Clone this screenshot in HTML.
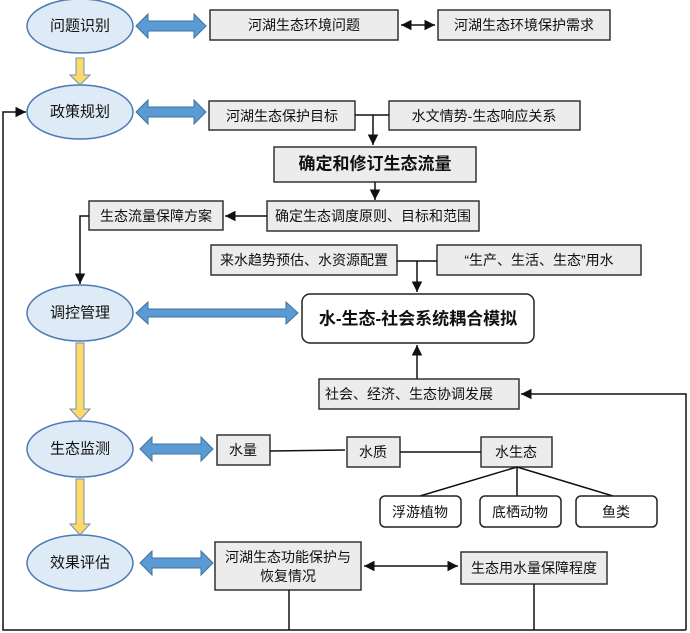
<!DOCTYPE html>
<html><head><meta charset="utf-8"><style>
html,body{margin:0;padding:0;background:#fff}
svg{display:block}
text{font-family:"Liberation Sans","Noto Sans CJK SC",sans-serif;font-size:14px;fill:#111;dominant-baseline:central;text-anchor:middle}
.b{fill:#ececec;stroke:#333;stroke-width:1.5}
.w{fill:#fff;stroke:#222;stroke-width:1.5}
.e{fill:#deeaf6;stroke:#4a7ab5;stroke-width:1.5}
.l{stroke:#111;stroke-width:1.5;fill:none}
.ba{fill:#5b9bd5;stroke:#41719c;stroke-width:1}
.ya{fill:#ffd966;stroke:#6f90c0;stroke-width:1}
.bd{font-weight:bold;font-size:17px}
.el{font-size:15px}
</style></head><body>
<svg width="690" height="633" viewBox="0 0 690 633">
<defs>
<marker id="a" viewBox="0 0 10 10" refX="10" refY="5" markerWidth="7" markerHeight="7" orient="auto-start-reverse"><path d="M0,0 L10,5 L0,10 z" fill="#111"/></marker>
</defs>
<ellipse class="e" cx="80" cy="26" rx="53" ry="27"/><text class="el" x="80" y="26">问题识别</text>
<ellipse class="e" cx="80" cy="112" rx="53" ry="27"/><text class="el" x="80" y="112">政策规划</text>
<ellipse class="e" cx="80" cy="313" rx="53" ry="28"/><text class="el" x="80" y="313">调控管理</text>
<ellipse class="e" cx="80" cy="449" rx="53" ry="28"/><text class="el" x="80" y="449">生态监测</text>
<ellipse class="e" cx="80" cy="563" rx="53" ry="28"/><text class="el" x="80" y="563">效果评估</text>
<path class="ya" d="M76,58 h8 v17 h6 l-10,10 l-10,-10 h6 z"/>
<path class="ya" d="M76,343 h8 v66 h6 l-10,11 l-10,-11 h6 z"/>
<path class="ya" d="M76,479 h8 v45 h6 l-10,11 l-10,-11 h6 z"/>
<path class="ba" d="M136,26 l12,-12 v7 h46 v-7 l12,12 l-12,12 v-7 h-46 v7 z"/>
<path class="ba" d="M136,112 l12,-12 v7 h46 v-7 l12,12 l-12,12 v-7 h-46 v7 z"/>
<path class="ba" d="M136,313 l12,-11 v7 h138 v-7 l12,11 l-12,11 v-7 h-138 v7 z"/>
<path class="ba" d="M140,449 l12,-12 v7 h49 v-7 l12,12 l-12,12 v-7 h-49 v7 z"/>
<path class="ba" d="M140,563 l12,-12 v7 h49 v-7 l12,12 l-12,12 v-7 h-49 v7 z"/>
<rect class="b" x="210" y="10" width="188" height="30"/><text x="304" y="25">河湖生态环境问题</text>
<rect class="b" x="438" y="10" width="172" height="30"/><text x="524" y="25">河湖生态环境保护需求</text>
<line class="l" x1="401" y1="25" x2="435" y2="25" marker-start="url(#a)" marker-end="url(#a)"/>
<rect class="b" x="209" y="101" width="146" height="29"/><text x="282" y="116">河湖生态保护目标</text>
<rect class="b" x="389" y="101" width="191" height="29"/><text x="484" y="116">水文情势-生态响应关系</text>
<path class="l" d="M355,115 H389 M373,115 V145" marker-end="url(#a)"/>
<rect class="b" x="274" y="147" width="202" height="35"/><text class="bd" x="375" y="164">确定和修订生态流量</text>
<line class="l" x1="375" y1="182" x2="375" y2="200" marker-end="url(#a)"/>
<rect class="b" x="267" y="201" width="212" height="30"/><text x="373" y="216">确定生态调度原则、目标和范围</text>
<line class="l" x1="267" y1="216" x2="225" y2="216" marker-end="url(#a)"/>
<rect class="b" x="89" y="201" width="134" height="29"/><text x="156" y="216">生态流量保障方案</text>
<path class="l" d="M89,216 H80 V284" marker-end="url(#a)"/>
<rect class="b" x="211" y="245" width="186" height="30"/><text x="304" y="260">来水趋势预估、水资源配置</text>
<rect class="b" x="437" y="245" width="204" height="30"/><text x="539" y="260">“生产、生活、生态”用水</text>
<path class="l" d="M397,261 H437 M417,261 V292" marker-end="url(#a)"/>
<rect class="w" x="302" y="294" width="232" height="49" rx="8"/><text class="bd" x="418" y="319">水-生态-社会系统耦合模拟</text>
<line class="l" x1="417" y1="379" x2="417" y2="345" marker-end="url(#a)"/>
<rect class="b" x="319" y="379" width="200" height="30"/><text x="409" y="394">社会、经济、生态协调发展</text>
<path class="l" d="M686,630 V394 H521" marker-end="url(#a)"/>
<rect class="b" x="217" y="435" width="53" height="30"/><text x="243" y="450">水量</text>
<rect class="b" x="347" y="437" width="53" height="30"/><text x="373" y="452">水质</text>
<rect class="b" x="481" y="437" width="71" height="30"/><text x="516" y="452">水生态</text>
<path class="l" d="M270,451 L345,450 M400,452 H481 M517,467 L420,496 M517,467 V496 M517,467 L613,496"/>
<rect class="w" x="380" y="496" width="81" height="31" rx="5"/><text x="420" y="512">浮游植物</text>
<rect class="w" x="480" y="496" width="81" height="31" rx="5"/><text x="520" y="512">底栖动物</text>
<rect class="w" x="576" y="496" width="81" height="31" rx="5"/><text x="616" y="512">鱼类</text>
<rect class="b" x="215" y="542" width="146" height="48"/><text x="288" y="557">河湖生态功能保护与</text><text x="288" y="576">恢复情况</text>
<rect class="b" x="461" y="552" width="146" height="32"/><text x="534" y="568">生态用水量保障程度</text>
<line class="l" x1="364" y1="566" x2="458" y2="566" marker-start="url(#a)" marker-end="url(#a)"/>
<path class="l" d="M289,590 V630 M534,584 V630 M686,630 H3 V112 H26" marker-end="url(#a)"/>
</svg>
</body></html>
